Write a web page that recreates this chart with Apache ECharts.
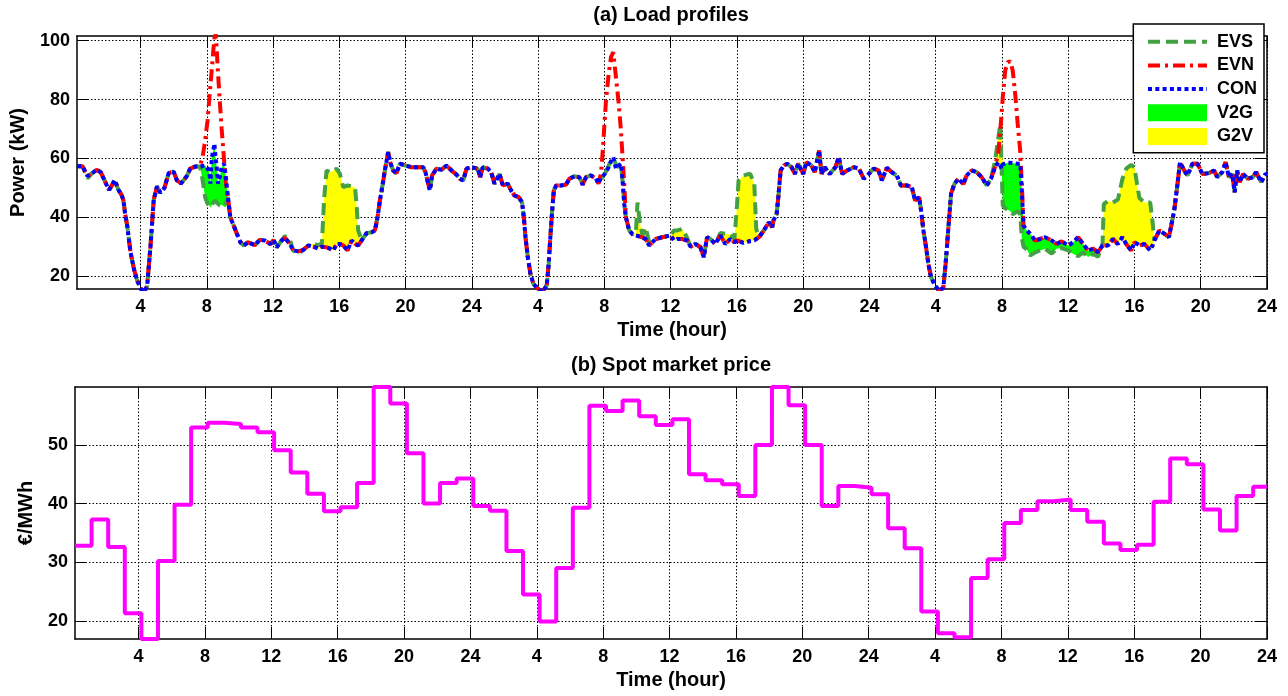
<!DOCTYPE html>
<html><head><meta charset="utf-8">
<script src="https://cdn.jsdelivr.net/npm/echarts@6/dist/echarts.min.js"></script>
<style>html,body{margin:0;padding:0;background:#fff}#chart{width:1288px;height:696px}</style>
</head><body><div id="chart"></div>
<script>
// ---------- DATA ----------
// time (hour, 0..72 over three days)
const hours = [
  0.17, 0.5, 0.8, 1.05, 1.35, 1.6, 1.87, 2.1, 2.27, 2.45,
  2.65, 2.87, 2.97, 3.07, 3.2, 3.4, 3.6, 3.8, 4.0, 4.2,
  4.4, 4.6, 4.8, 5.0, 5.2, 5.45, 5.7, 6.0, 6.2, 6.45,
  6.8, 7.0, 7.3, 7.6, 7.75, 7.9, 8.05, 8.15, 8.22, 8.3,
  8.4, 8.46, 8.52, 8.6, 8.68, 8.78, 8.9, 9.05, 9.15, 9.28,
  9.42, 9.62, 9.82, 10.03, 10.23, 10.5, 10.9, 11.2, 11.5, 11.84,
  12.04, 12.22, 12.52, 12.72, 13.02, 13.22, 13.53, 13.83, 14.13, 14.43,
  14.73, 14.95, 15.08, 15.23, 15.44, 15.64, 15.84, 16.04, 16.24, 16.5,
  16.74, 16.95, 17.04, 17.14, 17.35, 17.65, 17.95, 18.15, 18.31, 18.45,
  18.61, 18.75, 18.95, 19.1, 19.25, 19.45, 19.66, 19.96, 20.36, 20.76,
  21.06, 21.2, 21.37, 21.47, 21.6, 21.87, 22.17, 22.47, 22.77, 23.07,
  23.27, 23.48, 23.68, 23.98,
  24.06, 24.36, 24.5, 24.66, 24.97, 25.17, 25.37, 25.67, 25.87, 26.17,
  26.37, 26.57, 26.83, 27.03, 27.14, 27.24, 27.38, 27.54, 27.72, 27.98,
  28.25, 28.52, 28.64, 28.74, 28.85, 28.95, 29.09, 29.39, 29.69, 29.89,
  30.19, 30.49, 30.69, 30.89, 31.19, 31.49, 31.65, 31.8, 31.92, 32.0,
  32.1, 32.26, 32.4, 32.54, 32.7, 32.87, 33.0, 33.1, 33.2, 33.3,
  33.5, 33.7, 33.9, 34.0, 34.15, 34.3, 34.5, 34.7, 35.1, 35.5,
  36.0, 36.2, 36.4, 36.7, 37.0, 37.2, 37.5, 37.8, 38.0, 38.2,
  38.4, 38.7, 39.0, 39.3, 39.6, 39.85, 40.02, 40.1, 40.4, 40.8,
  41.05, 41.17, 41.33, 41.63, 41.93, 42.13, 42.2, 42.4, 42.5, 42.64,
  42.84, 43.04, 43.3, 43.5, 43.7, 44.0, 44.2, 44.5, 44.7, 44.97,
  45.1, 45.3, 45.6, 45.95, 46.15, 46.35, 46.66, 47.06, 47.36, 47.66,
  47.96,
  48.25, 48.55, 48.75, 49.05, 49.35, 49.65, 49.9, 50.26, 50.56, 50.76,
  51.0, 51.12, 51.26, 51.42, 51.56, 51.72, 51.96, 52.2, 52.46, 52.6,
  52.77, 52.93, 53.13, 53.37, 53.67, 53.87, 54.18, 54.48, 54.78, 55.08,
  55.34, 55.58, 55.78, 55.9, 55.99, 56.05, 56.2, 56.35, 56.5, 56.65,
  56.8, 56.95, 57.1, 57.2, 57.3, 57.5, 57.7, 58.0, 58.3, 58.6,
  59.0, 59.3, 59.6, 60.0, 60.3, 60.6, 60.9, 61.2, 61.5, 61.8,
  62.07, 62.15, 62.4, 62.7, 63.0, 63.27, 63.5, 63.8, 64.0, 64.15,
  64.3, 64.6, 64.95, 65.1, 65.2, 65.5, 65.8, 66.08, 66.2, 66.4,
  66.6, 66.75, 67.0, 67.2, 67.5, 67.8, 68.1, 68.5, 68.8, 69.0,
  69.3, 69.5, 69.7, 69.9, 70.05, 70.2, 70.35, 70.55, 70.85, 71.15,
  71.35, 71.65, 71.9, 72.0
];
// CON load (kW)
const conLoad = [
  57.3, 57.3, 54.0, 54.8, 56.1, 55.3, 52.0, 49.3, 50.8, 52.7,
  49.5, 47.4, 45.7, 41.2, 37.0, 28.0, 22.5, 18.5, 15.8, 14.5,
  16.5, 30.0, 46.0, 50.5, 48.3, 50.0, 55.0, 55.5, 52.5, 51.5,
  54.0, 56.5, 57.2, 57.2, 57.4, 57.6, 56.5, 55.5, 51.4, 60.0,
  63.0, 65.0, 61.0, 57.0, 51.4, 53.6, 57.0, 58.2, 53.5, 46.8,
  40.0, 37.2, 34.4, 31.5, 30.4, 31.5, 30.5, 32.3, 32.1, 30.9,
  32.2, 29.8, 32.1, 33.0, 30.9, 28.7, 28.4, 28.9, 30.4, 30.0,
  29.3, 30.0, 29.9, 29.8, 29.3, 28.7, 30.9, 30.9, 30.4, 28.7,
  32.1, 31.0, 30.8, 30.4, 32.1, 34.6, 34.9, 35.5, 40.0, 45.7,
  50.8, 55.9, 62.1, 58.2, 55.9, 55.0, 58.2, 57.6, 57.0, 57.0,
  57.0, 55.3, 51.4, 49.1, 54.2, 56.5, 56.1, 57.6, 55.9, 54.5,
  53.1, 52.5, 56.5, 57.0,
  57.0, 56.5, 53.6, 57.0, 56.5, 55.3, 51.4, 54.7, 50.8, 51.4,
  49.1, 47.4, 46.8, 45.1, 40.0, 33.2, 26.4, 20.7, 17.3, 15.8,
  14.5, 16.8, 24.1, 33.2, 42.3, 49.1, 50.8, 50.8, 51.1, 53.1,
  53.9, 53.6, 51.1, 53.6, 54.2, 53.1, 51.4, 53.6, 53.0, 54.5,
  54.7, 57.0, 59.0, 60.4, 56.5, 57.5, 58.2, 52.5, 44.6, 40.0,
  35.5, 34.2, 33.8, 33.6, 33.4, 33.2, 32.5, 30.4, 32.6, 33.2,
  33.8, 32.1, 32.6, 32.6, 32.1, 30.0, 30.9, 29.8, 26.4, 33.2,
  32.6, 30.9, 33.8, 30.9, 32.6, 31.5, 32.1, 31.8, 31.3, 31.9,
  32.1, 32.5, 33.2, 35.5, 38.3, 36.6, 38.8, 41.1, 46.8, 55.9,
  57.6, 58.2, 57.0, 54.7, 58.2, 54.7, 58.7, 57.6, 55.3, 62.7,
  54.7, 57.0, 54.7, 57.0, 60.4, 54.7, 55.9, 57.0, 56.5, 53.1,
  54.7,
  56.5, 55.9, 52.5, 56.8, 55.3, 54.2, 50.8, 50.8, 50.2, 45.7,
  46.8, 42.3, 35.5, 29.8, 24.1, 19.6, 16.8, 15.0, 16.0, 24.1,
  36.6, 48.0, 51.3, 53.1, 51.3, 54.2, 55.9, 55.3, 53.6, 50.8,
  53.1, 57.0, 58.7, 57.5, 56.5, 58.0, 58.3, 58.5, 58.5, 58.4,
  58.3, 58.2, 58.2, 49.1, 37.2, 35.5, 34.4, 32.1, 32.6, 33.2,
  32.1, 30.9, 31.8, 30.4, 31.5, 33.2, 30.9, 28.7, 29.3, 28.1,
  30.4, 30.4, 30.4, 32.6, 30.9, 33.2, 30.9, 28.7, 31.5, 31.0,
  30.4, 30.9, 28.7, 30.5, 32.1, 35.5, 34.4, 33.2, 36.6, 42.3,
  51.4, 58.7, 55.9, 54.2, 58.2, 58.2, 54.7, 55.0, 55.9, 53.6,
  55.3, 58.7, 53.6, 54.7, 48.5, 55.9, 51.9, 54.7, 53.1, 53.6,
  55.3, 51.9, 54.7, 54.5
];
// EVN load (kW)
const evnLoad = [
  57.3, 57.3, 54.0, 54.8, 56.1, 55.3, 52.0, 49.3, 50.8, 52.7,
  49.5, 47.4, 45.7, 41.2, 37.0, 28.0, 22.5, 18.5, 15.8, 14.5,
  16.5, 30.0, 46.0, 50.5, 48.3, 50.0, 55.0, 55.5, 52.5, 51.5,
  54.0, 56.5, 57.2, 57.5, 60.5, 66.0, 73.0, 80.0, 85.0, 90.0,
  97.0, 100.5, 104.0, 97.0, 89.0, 80.0, 70.0, 59.0, 52.0, 46.8,
  40.0, 37.2, 34.4, 31.5, 30.4, 31.5, 30.5, 32.3, 32.1, 30.9,
  32.2, 29.8, 32.1, 33.0, 30.9, 28.7, 28.4, 28.9, 30.4, 30.0,
  29.3, 30.0, 29.9, 29.8, 29.3, 28.7, 30.9, 30.9, 30.4, 28.7,
  32.1, 31.0, 30.8, 30.4, 32.1, 34.6, 34.9, 35.5, 40.0, 45.7,
  50.8, 55.9, 62.1, 58.2, 55.9, 55.0, 58.2, 57.6, 57.0, 57.0,
  57.0, 55.3, 51.4, 49.1, 54.2, 56.5, 56.1, 57.6, 55.9, 54.5,
  53.1, 52.5, 56.5, 57.0,
  57.0, 56.5, 53.6, 57.0, 56.5, 55.3, 51.4, 54.7, 50.8, 51.4,
  49.1, 47.4, 46.8, 45.1, 40.0, 33.2, 26.4, 20.7, 17.3, 15.8,
  14.5, 16.8, 24.1, 33.2, 42.3, 49.1, 50.8, 50.8, 51.1, 53.1,
  53.9, 53.6, 51.1, 53.6, 54.2, 53.1, 51.4, 55.0, 63.8, 71.2,
  79.7, 88.7, 94.4, 96.1, 87.6, 78.5, 69.5, 60.4, 51.3, 40.0,
  35.5, 34.2, 33.8, 33.6, 33.4, 33.2, 32.5, 30.4, 32.6, 33.2,
  33.8, 32.1, 32.6, 32.6, 32.1, 30.0, 30.9, 29.8, 26.4, 33.2,
  32.6, 30.9, 33.8, 30.9, 32.6, 31.5, 32.1, 31.8, 31.3, 31.9,
  32.1, 32.5, 33.2, 35.5, 38.3, 36.6, 38.8, 41.1, 46.8, 55.9,
  57.6, 58.2, 57.0, 54.7, 58.2, 54.7, 58.7, 57.6, 55.3, 62.7,
  54.7, 57.0, 54.7, 57.0, 60.4, 54.7, 55.9, 57.0, 56.5, 53.1,
  54.7,
  56.5, 55.9, 52.5, 56.8, 55.3, 54.2, 50.8, 50.8, 50.2, 45.7,
  46.8, 42.3, 35.5, 29.8, 24.1, 19.6, 16.8, 15.0, 16.0, 24.1,
  36.6, 48.0, 51.3, 53.1, 51.3, 54.2, 55.9, 55.3, 53.6, 50.8,
  53.1, 57.0, 62.0, 69.5, 76.0, 80.8, 89.9, 92.7, 93.0, 89.9,
  81.9, 71.8, 62.7, 51.4, 37.2, 35.5, 34.4, 32.1, 32.6, 33.2,
  32.1, 30.9, 31.8, 30.4, 31.5, 33.2, 30.9, 28.7, 29.3, 28.1,
  30.4, 30.4, 30.4, 32.6, 30.9, 33.2, 30.9, 28.7, 31.5, 31.0,
  30.4, 30.9, 28.7, 30.5, 32.1, 35.5, 34.4, 33.2, 36.6, 42.3,
  51.4, 58.7, 55.9, 54.2, 58.2, 58.2, 54.7, 55.0, 55.9, 53.6,
  55.3, 58.7, 53.6, 54.7, 48.5, 55.9, 51.9, 54.7, 53.1, 53.6,
  55.3, 51.9, 54.7, 54.5
];
// EVS load (kW)
const evsLoad = [
  57.3, 57.3, 53.2, 54.8, 56.1, 55.3, 52.0, 49.3, 50.8, 52.7,
  49.5, 47.4, 45.7, 41.2, 37.0, 28.0, 22.5, 18.5, 15.8, 14.5,
  16.5, 30.0, 46.0, 50.5, 48.3, 50.0, 55.0, 55.5, 52.5, 51.5,
  54.0, 56.5, 57.2, 57.2, 52.5, 46.8, 44.6, 44.0, 43.4, 44.0,
  45.0, 45.5, 45.7, 45.0, 44.5, 44.0, 44.2, 43.6, 43.4, 46.8,
  40.0, 37.2, 34.4, 31.5, 30.4, 31.5, 30.5, 32.3, 32.1, 30.9,
  32.2, 29.8, 32.1, 33.6, 32.3, 28.7, 27.6, 28.9, 30.4, 31.0,
  30.5, 31.0, 46.0, 55.9, 55.3, 55.9, 56.5, 54.7, 50.2, 50.8,
  50.5, 50.0, 44.6, 35.5, 32.1, 34.6, 34.9, 35.5, 40.0, 45.7,
  50.8, 55.9, 62.1, 58.2, 55.9, 55.0, 58.2, 57.6, 57.0, 57.0,
  57.0, 55.3, 51.4, 49.1, 54.2, 56.5, 56.1, 57.6, 55.9, 54.5,
  53.1, 52.5, 56.5, 57.0,
  57.0, 56.5, 53.6, 57.0, 56.5, 55.3, 51.4, 54.7, 50.8, 51.4,
  49.1, 47.4, 46.8, 45.1, 40.0, 33.2, 26.4, 20.7, 17.3, 15.8,
  14.5, 16.8, 24.1, 33.2, 42.3, 49.1, 50.8, 50.8, 51.1, 53.1,
  53.9, 53.6, 51.1, 53.6, 54.2, 53.1, 52.0, 54.0, 53.0, 54.5,
  55.5, 57.5, 59.5, 60.0, 58.0, 57.0, 57.5, 52.5, 44.6, 40.0,
  35.5, 34.2, 34.5, 45.0, 38.0, 34.0, 36.5, 31.5, 32.6, 33.2,
  33.8, 35.5, 35.5, 36.0, 33.0, 30.0, 30.9, 29.8, 26.4, 33.2,
  32.6, 30.9, 34.6, 34.4, 34.2, 32.5, 45.0, 52.5, 54.2, 54.8,
  51.5, 36.0, 33.2, 35.5, 38.3, 36.6, 38.8, 41.1, 46.8, 55.9,
  57.6, 58.2, 57.0, 54.7, 58.2, 54.7, 58.7, 57.6, 55.3, 62.7,
  54.7, 57.0, 54.7, 57.0, 60.4, 54.7, 55.9, 57.0, 56.5, 53.1,
  54.7,
  56.5, 55.9, 52.5, 56.8, 55.3, 54.2, 50.8, 50.8, 50.2, 45.7,
  46.8, 42.3, 35.5, 29.8, 24.1, 19.6, 16.8, 15.0, 16.0, 24.1,
  36.6, 48.0, 51.3, 53.1, 51.3, 54.2, 55.9, 55.3, 53.6, 50.8,
  53.1, 59.0, 67.0, 71.5, 72.0, 44.0, 43.0, 42.5, 42.0, 41.0,
  41.5, 42.0, 41.0, 33.0, 30.0, 29.0, 27.0, 28.0, 28.7, 29.3,
  27.6, 29.3, 29.5, 28.7, 27.5, 26.8, 28.0, 26.5, 27.5, 26.6,
  30.4, 44.5, 45.5, 45.0, 46.0, 53.0, 56.5, 57.8, 57.0, 51.5,
  46.5, 45.0, 45.0, 38.0, 32.1, 35.5, 34.4, 33.2, 36.6, 42.3,
  51.4, 58.7, 55.9, 54.2, 58.2, 58.2, 54.7, 55.0, 55.9, 53.6,
  55.3, 58.7, 53.6, 54.7, 48.5, 55.9, 51.9, 54.7, 53.1, 53.6,
  55.3, 51.9, 54.7, 54.5
];
// hourly spot market price (EUR/MWh), 72 hours
const priceValues = [
  32.8, 37.3, 32.6, 21.3, 16.9, 30.2, 39.8, 53.0, 53.8, 53.6,
  53.0, 52.2, 49.1, 45.3, 41.7, 38.7, 39.4, 43.5, 59.9, 57.1,
  48.6, 40.0, 43.5, 44.3, 39.6, 38.8, 31.9, 24.5, 19.9, 29.0,
  39.3, 56.7, 55.8, 57.6, 54.9, 53.4, 54.4, 45.0, 44.0, 43.3,
  41.3, 50.0, 59.9, 56.8, 50.0, 39.6, 43.0, 42.7, 41.6, 35.8,
  32.4, 21.6, 17.9, 17.2, 27.3, 30.5, 36.7, 38.9, 40.4, 40.7,
  38.9, 36.9, 33.2, 32.1, 33.0, 40.3, 47.7, 46.7, 39.0, 35.4,
  41.3, 42.9
];
const priceStartHour = 1 / 6;
const xTicks = [4, 8, 12, 16, 20, 24, 28, 32, 36, 40, 44, 48, 52, 56, 60, 64, 68, 72];
const xTickLabels = ['4','8','12','16','20','24','4','8','12','16','20','24','4','8','12','16','20','24'];
const loadTicks = [20, 40, 60, 80, 100];
const priceTicks = [20, 30, 40, 50];
const seriesNames = ['EVS', 'EVN', 'CON', 'V2G', 'G2V'];
const titles = ['(a) Load profiles', '(b) Spot market price'];

// ---------- CHART ----------
const FONT = "'Liberation Sans', Arial, Helvetica, sans-serif";
const chart = echarts.init(document.getElementById('chart'), null, { renderer: 'canvas' });

const v2gLower = conLoad.map((c, i) => Math.min(c, evsLoad[i]));
const g2vUpper = conLoad.map((c, i) => Math.max(c, evsLoad[i]));

function band(upper, lower, color) {
  return function (params, api) {
    if (params.dataIndex !== 0) return null;
    const pts = [];
    for (let i = 0; i < hours.length; i++) pts.push(api.coord([hours[i], upper[i]]));
    for (let i = hours.length - 1; i >= 0; i--) pts.push(api.coord([hours[i], lower[i]]));
    return { type: 'polygon', shape: { points: pts }, style: { fill: color, stroke: null } };
  };
}

const labelStyle = { fontSize: 18, fontWeight: 'bold', color: '#000', fontFamily: FONT };
const nameStyle = { fontSize: 20, fontWeight: 'bold', color: '#000', fontFamily: FONT };
const frameLine = { show: true, onZero: false, lineStyle: { color: '#000', width: 1.5 } };
const gridLine = { show: true, lineStyle: { color: '#000', width: 1, type: [1.5, 2] } };
const LW = 4;

function xMain(gi) {
  return {
    type: 'value', gridIndex: gi, min: priceStartHour, max: 72, position: 'bottom',
    name: 'Time (hour)', nameLocation: 'middle', nameGap: 31, nameTextStyle: nameStyle,
    axisLine: frameLine,
    axisTick: { show: true, inside: true, length: 12, customValues: xTicks, lineStyle: { color: '#000', width: 1 } },
    axisLabel: Object.assign({ show: true, margin: 9, customValues: xTicks,
      formatter: v => xTickLabels[xTicks.indexOf(Math.round(v))] }, labelStyle),
    splitLine: gridLine
  };
}
function xTop(gi) {
  return {
    type: 'value', gridIndex: gi, min: priceStartHour, max: 72, position: 'top',
    axisLine: frameLine,
    axisTick: { show: true, inside: true, length: 12, customValues: xTicks, lineStyle: { color: '#000', width: 1 } },
    axisLabel: { show: false }, splitLine: { show: false }
  };
}
function yMain(gi, min, max, ticks, name, gap) {
  return {
    type: 'value', gridIndex: gi, min: min, max: max, position: 'left',
    name: name, nameLocation: 'middle', nameGap: gap, nameTextStyle: nameStyle,
    axisLine: frameLine,
    axisTick: { show: true, inside: true, length: 12, customValues: ticks, lineStyle: { color: '#000', width: 1 } },
    axisLabel: Object.assign({ show: true, margin: 7, customValues: ticks }, labelStyle),
    splitLine: gridLine
  };
}
function yRight(gi, min, max, ticks) {
  return {
    type: 'value', gridIndex: gi, min: min, max: max, position: 'right',
    axisLine: frameLine,
    axisTick: { show: true, inside: true, length: 12, customValues: ticks, lineStyle: { color: '#000', width: 1 } },
    axisLabel: { show: false }, splitLine: { show: false }
  };
}

const option = {
  animation: false,
  backgroundColor: '#fff',
  title: [
    { text: titles[0], left: 671, top: 5, textAlign: 'center', padding: 0, textStyle: nameStyle },
    { text: titles[1], left: 671, top: 355, textAlign: 'center', padding: 0, textStyle: nameStyle }
  ],
  legend: {
    orient: 'vertical', right: 24, top: 24,
    itemWidth: 59, itemHeight: 17, itemGap: 5.7,
    padding: [8.7, 7, 7.3, 12.7],
    backgroundColor: '#fff', borderColor: '#000', borderWidth: 1.5, borderRadius: 0,
    selectedMode: false,
    textStyle: { fontSize: 18, fontWeight: 'bold', color: '#000', fontFamily: FONT, padding: [0, 0, 0, 5] },
    lineStyle: { width: LW },
    data: [
      { name: seriesNames[0], itemStyle: { opacity: 0 } },
      { name: seriesNames[1], itemStyle: { opacity: 0 } },
      { name: seriesNames[2], itemStyle: { opacity: 0 } },
      { name: seriesNames[3], icon: 'rect' },
      { name: seriesNames[4], icon: 'rect' }
    ]
  },
  grid: [
    { left: 75, right: 21, top: 36, height: 253 },
    { left: 75, right: 21, top: 387, height: 252 }
  ],
  xAxis: [ xMain(0), xMain(1), xTop(0), xTop(1) ],
  yAxis: [
    yMain(0, 15.6, 101.6, loadTicks, 'Power (kW)', 49),
    yMain(1, 16.9, 59.9, priceTicks, '€/MWh', 39),
    yRight(0, 15.6, 101.6, loadTicks),
    yRight(1, 16.9, 59.9, priceTicks)
  ],
  series: [
    { type: 'custom', name: seriesNames[3], coordinateSystem: 'cartesian2d', xAxisIndex: 0, yAxisIndex: 0,
      itemStyle: { color: '#00ff00' }, silent: true, z: 1,
      data: [[hours[0], conLoad[0]]], renderItem: band(conLoad, v2gLower, '#00ff00') },
    { type: 'custom', name: seriesNames[4], coordinateSystem: 'cartesian2d', xAxisIndex: 0, yAxisIndex: 0,
      itemStyle: { color: '#ffff00' }, silent: true, z: 1,
      data: [[hours[0], conLoad[0]]], renderItem: band(g2vUpper, conLoad, '#ffff00') },
    { type: 'line', name: seriesNames[0], xAxisIndex: 0, yAxisIndex: 0, symbol: 'none', showSymbol: false,
      data: hours.map((t, i) => [t, evsLoad[i]]), z: 3,
      itemStyle: { color: '#43a143' },
      lineStyle: { color: '#43a143', width: LW, type: [12, 6], cap: 'butt' } },
    { type: 'line', name: seriesNames[1], xAxisIndex: 0, yAxisIndex: 0, symbol: 'none', showSymbol: false,
      data: hours.map((t, i) => [t, evnLoad[i]]), z: 4,
      itemStyle: { color: '#ff0000' },
      lineStyle: { color: '#ff0000', width: LW, type: [12, 5, 3, 5], cap: 'butt' } },
    { type: 'line', name: seriesNames[2], xAxisIndex: 0, yAxisIndex: 0, symbol: 'none', showSymbol: false,
      data: hours.map((t, i) => [t, conLoad[i]]), z: 5,
      itemStyle: { color: '#0000ff' },
      lineStyle: { color: '#0000ff', width: LW, type: [4, 3.3], cap: 'butt' } },
    { type: 'line', name: 'Price', xAxisIndex: 1, yAxisIndex: 1, symbol: 'none', showSymbol: false, step: 'end',
      data: priceValues.map((p, k) => [priceStartHour + k, p]).concat([[72, priceValues[priceValues.length - 1]]]),
      itemStyle: { color: '#ff00ff' },
      lineStyle: { color: '#ff00ff', width: LW } }
  ]
};
chart.setOption(option);
</script>
</body></html>
